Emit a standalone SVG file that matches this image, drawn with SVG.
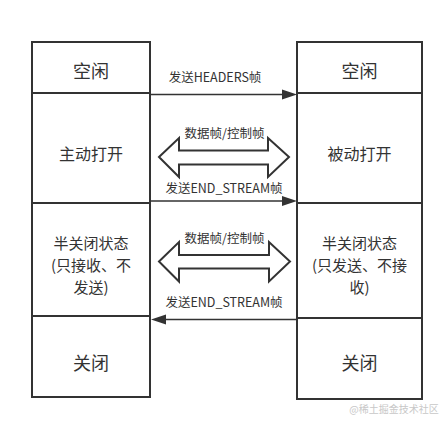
<svg xmlns="http://www.w3.org/2000/svg" width="447" height="426" viewBox="0 0 447 426">
<style>
.box{fill:#fff;stroke:#333;stroke-width:2}
.t{font-family:"Noto Sans CJK SC","Noto Sans",sans-serif;fill:#333;text-anchor:middle;dominant-baseline:central}
.big{font-size:18px}
.mid{font-size:16px}
.sm{font-size:15px}
.lbl{font-size:12.5px}
.ln{stroke:#333;stroke-width:1.5;fill:none}
.hd{fill:#333;stroke:none}
.dbl{fill:#fff;stroke:#333;stroke-width:2;stroke-linejoin:miter}
</style>
<rect width="447" height="426" fill="#fff"/>
<g id="left-idle"><rect class="box" x="32" y="42" width="118" height="51"/><text class="t big" x="91" y="70">空闲</text></g>
<g id="left-open"><rect class="box" x="32" y="93" width="118" height="110"/><text class="t mid" x="91" y="153">主动打开</text></g>
<g id="left-half"><rect class="box" x="32" y="203" width="118" height="113"/><text class="t sm" x="91" y="242">半关闭状态</text><text class="t sm" x="91" y="264">(只接收、不</text><text class="t sm" x="91" y="286">发送)</text></g>
<g id="left-closed"><rect class="box" x="32" y="316" width="118" height="81"/><text class="t big" x="91" y="361.5">关闭</text></g>
<g id="right-idle"><rect class="box" x="297" y="42" width="125" height="51"/><text class="t big" x="359.5" y="70">空闲</text></g>
<g id="right-open"><rect class="box" x="297" y="93" width="125" height="110"/><text class="t mid" x="359.5" y="153">被动打开</text></g>
<g id="right-half"><rect class="box" x="297" y="203" width="125" height="115"/><text class="t sm" x="359.5" y="242">半关闭状态</text><text class="t sm" x="359.5" y="264">(只发送、不接</text><text class="t sm" x="359.5" y="286">收)</text></g>
<g id="right-closed"><rect class="box" x="297" y="318" width="125" height="81"/><text class="t big" x="359.5" y="361.5">关闭</text></g>
<g id="connectors">
<line class="ln" x1="151" y1="94.5" x2="284" y2="94.5"/><polygon class="hd" points="282,89.5 297,94.5 282,99.5"/>
<text class="t lbl" x="215" y="76">发送HEADERS帧</text>
<polygon class="dbl" points="159,157 179,138 179,150.5 268,150.5 268,138 289,157 268,177 268,164.5 179,164.5 179,177"/>
<text class="t lbl" x="224.5" y="132">数据帧/控制帧</text>
<line class="ln" x1="151" y1="201" x2="284" y2="201"/><polygon class="hd" points="282,196 297,201 282,206"/>
<text class="t lbl" x="224" y="187">发送END_STREAM帧</text>
<polygon class="dbl" points="159,261.5 179,242 179,255 269,255 269,242 290,261.5 269,281.5 269,268.5 179,268.5 179,281.5"/>
<text class="t lbl" x="224.5" y="237">数据帧/控制帧</text>
<line class="ln" x1="296" y1="319.5" x2="164" y2="319.5"/><polygon class="hd" points="166,314.5 151,319.5 166,324.5"/>
<text class="t lbl" x="224" y="301">发送END_STREAM帧</text>
</g>
<text x="394" y="408" style="font-family:'Noto Sans CJK SC',sans-serif;font-size:10px;fill:#c8c8c8;text-anchor:middle;dominant-baseline:central">@稀土掘金技术社区</text>
</svg>
